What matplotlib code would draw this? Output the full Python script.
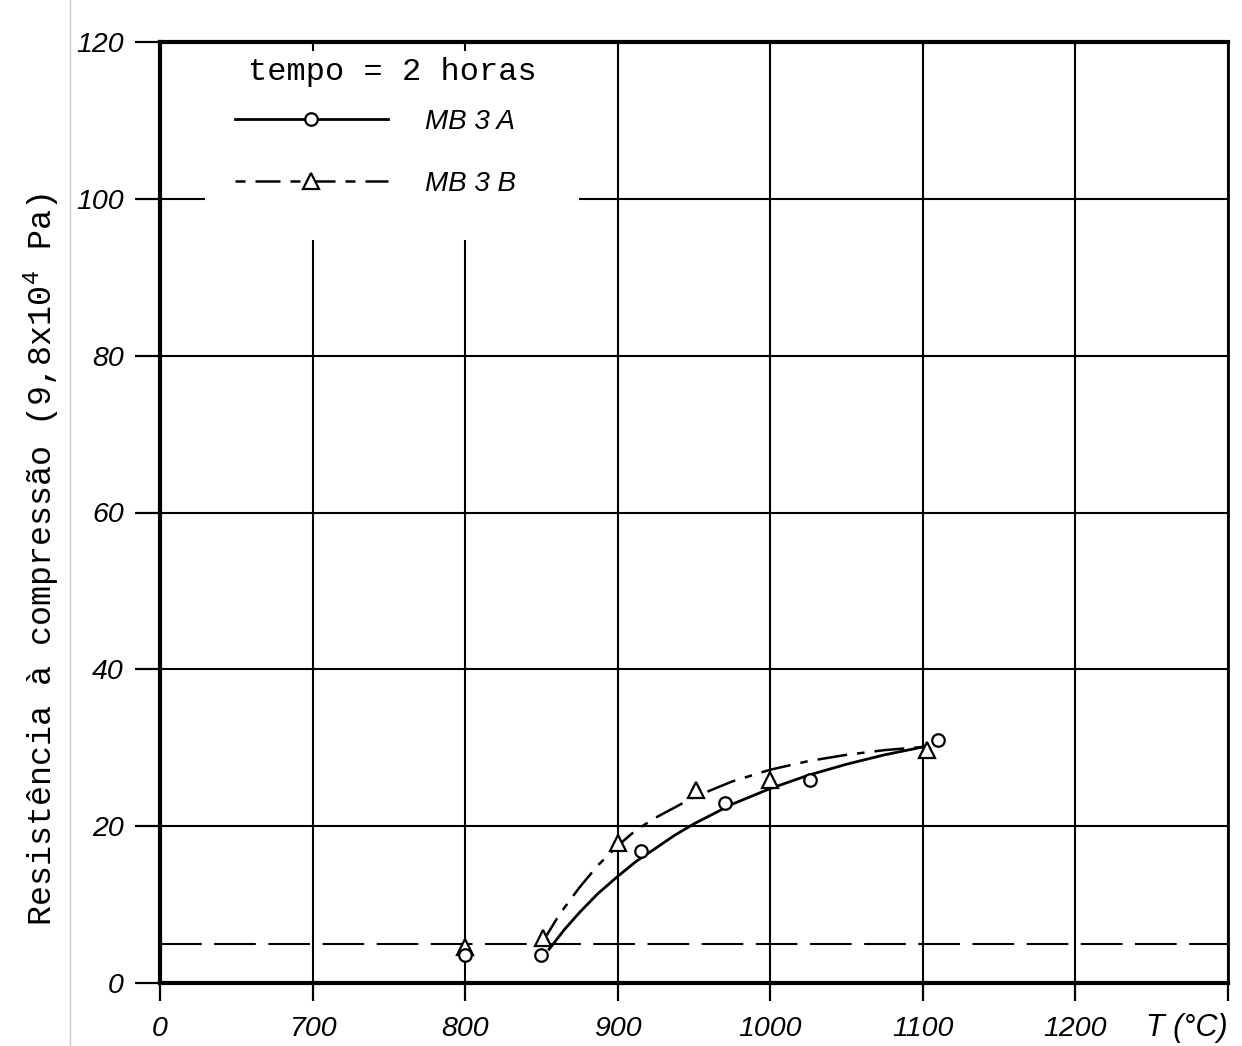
import matplotlib
matplotlib.use("Agg")
import matplotlib.pyplot as plt
from matplotlib.patches import Rectangle
from matplotlib.lines import Line2D

plt.rcParams['mathtext.default'] = 'regular'

# measured points
mb3a_x = [800, 850, 915, 970, 1026, 1110]
mb3a_y = [3.6, 3.6, 16.8, 23.0, 25.9, 31.0]
mb3b_x = [800, 851, 900, 951, 1000, 1103]
mb3b_y = [4.6, 5.7, 17.9, 24.6, 25.9, 29.7]

# hand-drawn fitted curves
fit_a_x = [855, 865, 875, 887, 900, 912, 925, 937, 950, 975, 1000, 1025, 1050, 1075, 1100]
fit_a_y = [4.3, 6.8, 9.0, 11.4, 13.6, 15.5, 17.2, 18.8, 20.3, 22.8, 24.8, 26.5, 27.9, 29.1, 30.1]
fit_b_x = [850, 862, 875, 887, 900, 912, 925, 950, 975, 1000, 1025, 1050, 1075, 1100]
fit_b_y = [5.0, 8.8, 12.2, 15.0, 17.5, 19.5, 21.1, 23.7, 25.7, 27.2, 28.3, 29.1, 29.7, 30.1]

limit_y = 5.0  # horizontal dashed reference line

x_ticks = [600, 700, 800, 900, 1000, 1100, 1200, 1300]
x_labels = ['0', '700', '800', '900', '1000', '1100', '1200', '']
y_ticks = [0, 20, 40, 60, 80, 100, 120]

tick_font = dict(family='Liberation Sans', style='italic', size=20.5)
mono = 'Liberation Mono'

fig = plt.figure(figsize=(12.42, 10.46), dpi=100)
ax = fig.add_axes([160 / 1242, 1 - 983 / 1046, 1068 / 1242, 941 / 1046])

ax.set_xlim(600, 1300)
ax.set_ylim(0, 120)

ax.set_xticks(x_ticks)
ax.set_xticklabels(x_labels, fontdict=tick_font)
ax.set_yticks(y_ticks)
ax.set_yticklabels([str(v) for v in y_ticks], fontdict=tick_font)
ax.tick_params(axis='x', direction='out', length=13, width=1.6, pad=11, colors='black')
ax.tick_params(axis='y', direction='out', length=18, width=1.6, pad=8, colors='black')

ax.grid(True, color='black', linewidth=1.5, zorder=1)
for side in ['left', 'top', 'bottom']:
    ax.spines[side].set_linewidth(3)
ax.spines['right'].set_linewidth(2)

# dashed reference line
ax.axhline(limit_y, color='black', linewidth=1.5, linestyle=(0, (20, 6)), zorder=2)

# fitted curves
ax.plot(fit_a_x, fit_a_y, color='black', linewidth=2, zorder=3)
ax.plot(fit_b_x, fit_b_y, color='black', linewidth=1.8,
        linestyle=(0, (12, 4, 3, 4)), zorder=3)

# data points
ax.plot(mb3a_x, mb3a_y, linestyle='none', marker='o', markersize=9,
        markerfacecolor='white', markeredgecolor='black', markeredgewidth=1.6, zorder=5)
ax.plot(mb3b_x, mb3b_y, linestyle='none', marker='^', markersize=11,
        markerfacecolor='white', markeredgecolor='black', markeredgewidth=1.6, zorder=4)

# white area behind the legend (grid is interrupted there)
ax.add_patch(Rectangle((0.042, 0.79), 0.35, 0.2, transform=ax.transAxes,
                       facecolor='white', edgecolor='none', zorder=6))

ax.text(0.0824, 0.968, 'tempo = 2 horas', transform=ax.transAxes,
        ha='left', va='center', family=mono, fontsize=23, zorder=7)

handles = [
    Line2D([], [], color='black', linewidth=2, marker='o', markersize=9,
           markerfacecolor='white', markeredgecolor='black', markeredgewidth=1.6),
    Line2D([], [], color='black', linewidth=1.8, linestyle=(0, (4, 4, 10, 4)),
           marker='^', markersize=11, markerfacecolor='white',
           markeredgecolor='black', markeredgewidth=1.6),
]
leg = ax.legend(handles, ['MB 3 A', 'MB 3 B'], loc='upper left',
                bbox_to_anchor=(0.0702, 0.929), frameon=False,
                borderpad=0, borderaxespad=0,
                handlelength=5.5, handletextpad=1.33, labelspacing=1.3,
                prop=dict(family='Liberation Sans', style='italic', size=20))
leg.set_zorder(7)

ax.set_ylabel('Resistência à compressão (9,8x10$^{4}$ Pa)', family=mono, fontsize=24)
ax.yaxis.set_label_coords(-0.092, 0.45)

ax.text(1.0, -0.048, 'T (°C)', transform=ax.transAxes, ha='right', va='center',
        family='Liberation Sans', style='italic', fontsize=22)

# faint page edge of the scanned sheet
fig.add_artist(Line2D([70 / 1242, 70 / 1242], [0, 1], color='#c8c8c8', linewidth=1))

fig.savefig('out.png', dpi=100)
